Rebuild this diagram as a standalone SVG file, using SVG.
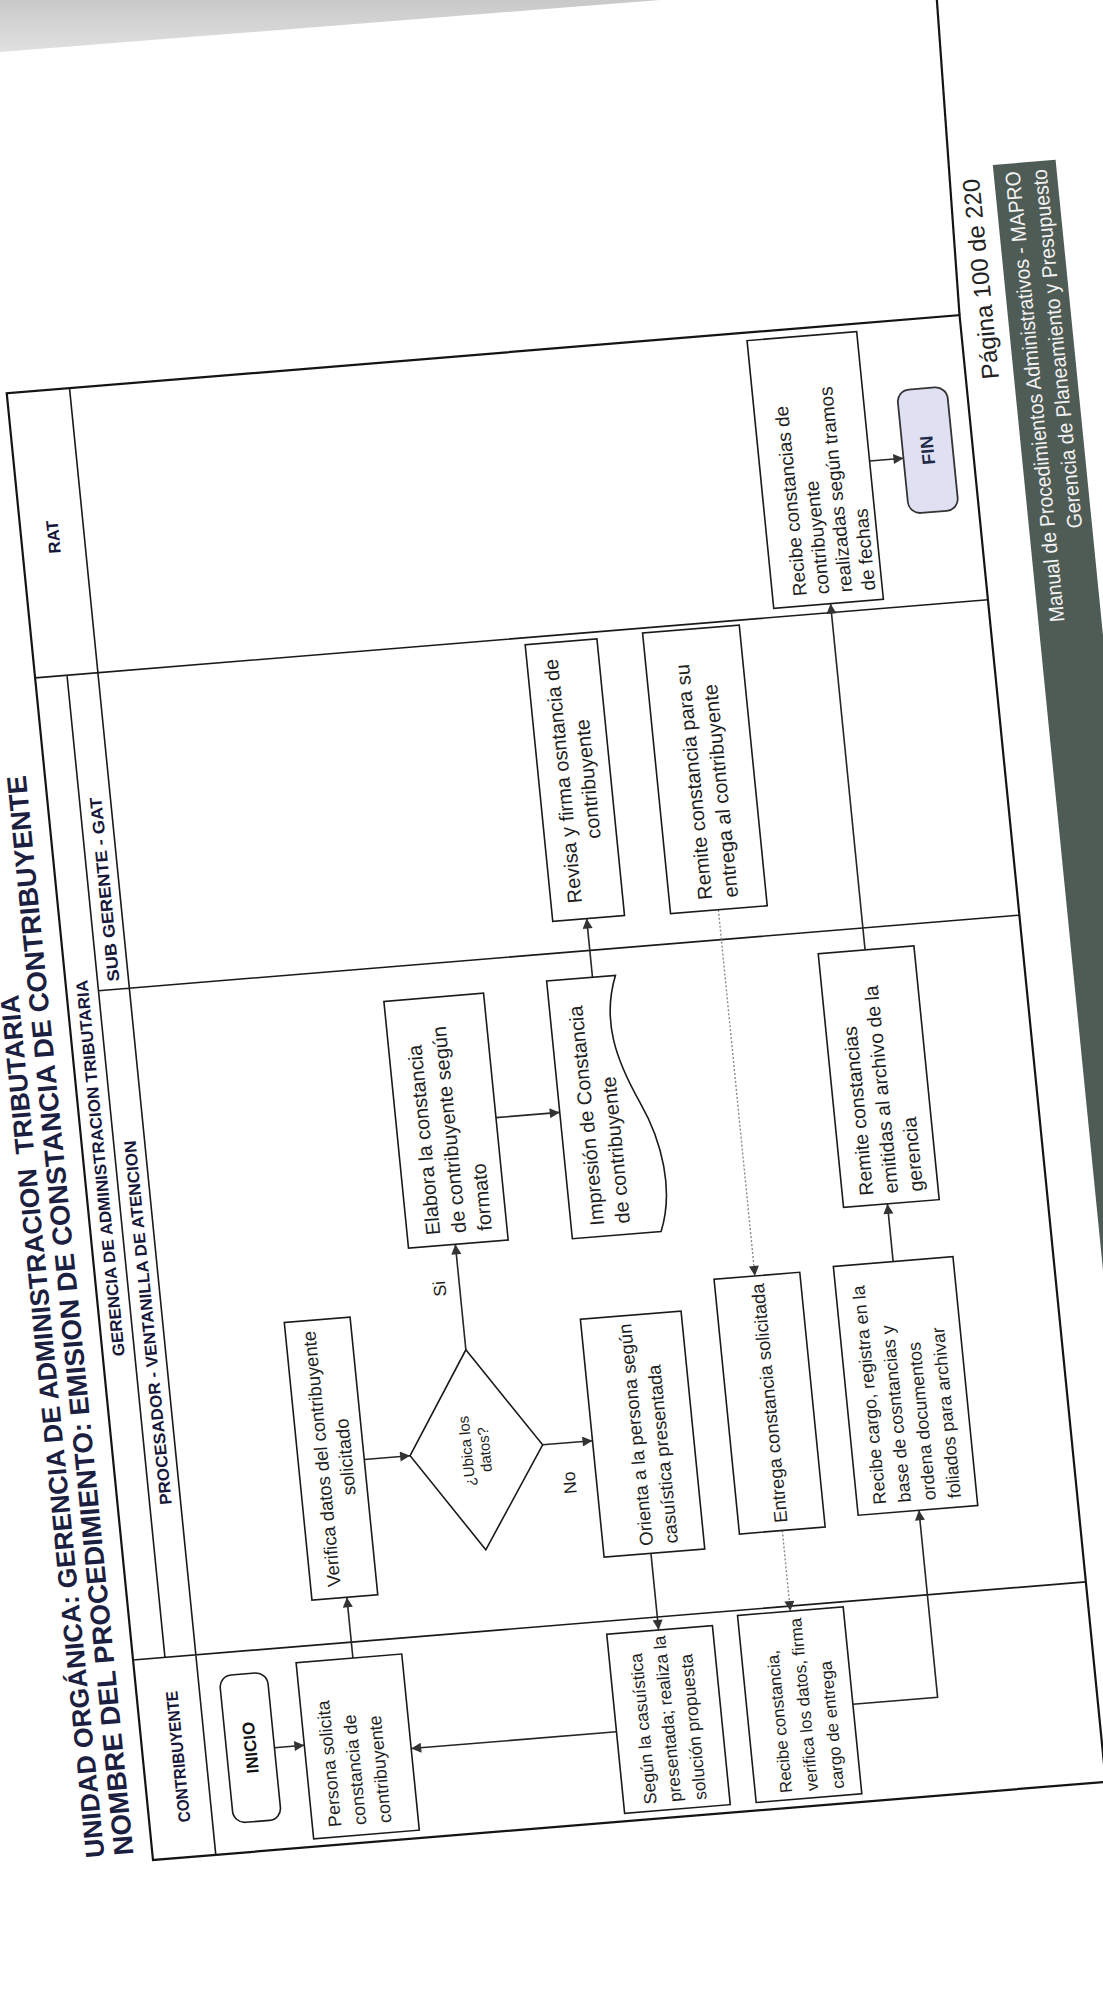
<svg xmlns="http://www.w3.org/2000/svg" width="1103" height="1997" viewBox="0 0 1103 1997">
<style>
.fr{stroke:#141414;stroke-width:2.2;fill:none}
.ln{stroke:#1a1a1a;stroke-width:1.6;fill:none}
.box{fill:#fff;stroke:#1a1a1a;stroke-width:1.6}
.t{font-family:"Liberation Sans",Arial,sans-serif;font-size:20px;fill:#1e1e1e}
.s{font-size:18px}
.tc{text-anchor:middle}
.hd{font-family:"Liberation Sans",Arial,sans-serif;font-weight:bold;font-size:16.7px;fill:#17173a}
.ttl{font-family:"Liberation Sans",Arial,sans-serif;font-weight:bold;font-size:27.5px;fill:#1c2040}
.lb{font-family:"Liberation Sans",Arial,sans-serif;font-size:17.5px;fill:#1e1e1e;text-anchor:middle}
.cn{stroke:#262626;stroke-width:1.6;fill:none;marker-end:url(#ah)}
.dt{stroke:#8a8a8a;stroke-width:1.4;stroke-dasharray:2 2;fill:none;marker-end:url(#ah)}
.ft{font-family:"Liberation Sans",Arial,sans-serif;fill:#f2f2f2;font-size:21px}
</style>
<defs>
<marker id="ah" viewBox="0 0 10 10" refX="10" refY="5" markerWidth="11" markerHeight="10" markerUnits="userSpaceOnUse" orient="auto"><path d="M0,0 L10,5 L0,10 z" fill="#333"/></marker>
<linearGradient id="gs" x1="0" y1="0" x2="0" y2="1"><stop offset="0" stop-color="#c9c9c9"/><stop offset="1" stop-color="#e0e0e0"/></linearGradient>
</defs>
<rect width="1103" height="1997" fill="#fff"/>
<polygon points="0,0 660,0 0,52" fill="url(#gs)"/>
<g id="page" transform="matrix(-0.09923,-0.99504,0.99665,-0.08174,153,1860)">
  <g id="title">
    <text class="ttl" x="7" y="-48" xml:space="preserve" style="font-size:26.5px">UNIDAD ORGÁNICA: GERENCIA DE ADMINISTRACION  TRIBUTARIA</text>
    <text class="ttl" x="7" y="-19" textLength="1085" lengthAdjust="spacingAndGlyphs">NOMBRE DEL PROCEDIMIENTO: EMISION DE CONSTANCIA DE CONTRIBUYENTE</text>
  </g>
  <g id="frame">
    <rect class="fr" x="0" y="0" width="1474" height="956" fill="#fff"/>
    <path class="ln" d="M0,63 H1474 M201,32 H1188 M201,0 V956 M871,32 V956 M1188,0 V956"/>
    <path class="fr" d="M1474,956 L1800,965"/>
  </g>
  <g id="headers">
    <text class="hd tc" x="101" y="41" textLength="132" lengthAdjust="spacingAndGlyphs">CONTRIBUYENTE</text>
    <text class="hd tc" x="694" y="22" textLength="378" lengthAdjust="spacingAndGlyphs">GERENCIA DE ADMINISTRACION TRIBUTARIA</text>
    <text class="hd tc" x="536" y="54" textLength="366" lengthAdjust="spacingAndGlyphs">PROCESADOR - VENTANILLA DE ATENCION</text>
    <text class="hd" x="879" y="54" textLength="185" lengthAdjust="spacingAndGlyphs">SUB GERENTE - GAT</text>
    <text class="hd tc" x="1327" y="38">RAT</text>
  </g>
  <g id="connectors">
    <path class="cn" d="M102,132 V162"/>
    <path class="cn" d="M185,219 H246"/>
    <path class="cn" d="M382,250 V296"/>
    <path class="cn" d="M483,362 H589"/>
    <path class="cn" d="M382,429 V479"/>
    <path class="cn" d="M265,526 H188"/>
    <path class="cn" d="M90,474 V268"/>
    <path class="cn" d="M712,415 V479"/>
    <path class="cn" d="M844,525 H903"/>
    <path class="dt" d="M901,657 H533"/>
    <path class="dt" d="M277,659 H196"/>
    <path class="cn" d="M98,712 V797 H286"/>
    <path class="cn" d="M536,796 H594"/>
    <path class="cn" d="M849,799 H1197"/>
    <path class="cn" d="M1336,852 V886"/>
    <text class="lb" x="546" y="348">Si</text>
    <text class="lb" x="342" y="458">No</text>
  </g>
  <g id="n-inicio"><rect class="box" x="30" y="84" width="148" height="48" rx="12"/><text class="hd tc" x="104" y="114" style="fill:#111;font-size:17px">INICIO</text></g>
  <g id="n-persona"><rect class="box" x="8" y="162" width="177" height="106"/>
    <text class="t s" x="18" y="191">Persona solicita</text><text class="t s" x="18" y="216">constancia de</text><text class="t s" x="18" y="241">contribuyente</text></g>
  <g id="n-verifica"><rect class="box" x="246" y="184" width="279" height="66"/>
    <text class="t tc" x="386" y="214" style="font-size:18.5px">Verifica datos del contribuyente</text><text class="t tc" x="386" y="238" style="font-size:18.5px">solicitado</text></g>
  <g id="n-ubica"><polygon class="box" points="382,296 483,362 382,429 282,362"/>
    <text class="t tc" x="382" y="358" style="font-size:15px">¿Ubica los</text><text class="t tc" x="382" y="376" style="font-size:15px">datos?</text></g>
  <g id="n-elabora"><rect class="box" x="589" y="315" width="248" height="100"/>
    <text class="t" x="600" y="348">Elabora la constancia</text><text class="t" x="600" y="374">de contribuyente según</text><text class="t" x="600" y="400">formato</text></g>
  <g id="n-impresion"><path class="box" d="M585,479 H844 V548 C800,530 760,540 715,560 C675,578 625,585 585,568 Z"/>
    <text class="t" x="596" y="512">Impresión de Constancia</text><text class="t" x="596" y="538">de contribuyente</text></g>
  <g id="n-revisa"><rect class="box" x="903" y="491" width="278" height="72"/>
    <text class="t tc" x="1042" y="522">Revisa y firma osntancia de</text><text class="t tc" x="1042" y="547">contribuyente</text></g>
  <g id="n-remite1"><rect class="box" x="901" y="609" width="282" height="97"/>
    <text class="t" x="912" y="652">Remite constancia para su</text><text class="t" x="912" y="678">entrega al contribuyente</text></g>
  <g id="n-entrega"><rect class="box" x="277" y="616" width="256" height="86"/>
    <text class="t tc" x="405" y="665" style="font-size:18.5px">Entrega constancia solicitada</text></g>
  <g id="n-orienta"><rect class="box" x="265" y="479" width="239" height="101"/>
    <text class="t" x="273" y="529" style="font-size:18.5px">Orienta a la persona según</text><text class="t" x="273" y="554" style="font-size:18.5px">casuística presentada</text></g>
  <g id="n-segun"><rect class="box" x="8" y="474" width="180" height="106"/>
    <text class="t" x="15" y="507" style="font-size:17.5px">Según la casuística</text><text class="t" x="15" y="532" style="font-size:17.5px">presentada; realiza la</text><text class="t" x="15" y="557" style="font-size:17.5px">solución propuesta</text></g>
  <g id="n-recibe1"><rect class="box" x="8" y="606" width="188" height="106"/>
    <text class="t" x="15" y="643" style="font-size:17px">Recibe constancia,</text><text class="t" x="15" y="669" style="font-size:17px">verifica los datos, firma</text><text class="t" x="15" y="695" style="font-size:17px">cargo de entrega</text></g>
  <g id="n-recibe2"><rect class="box" x="286" y="736" width="250" height="120"/>
    <text class="t s" x="295" y="765">Recibe cargo, registra en la</text><text class="t s" x="295" y="790">base de cosntancias y</text><text class="t s" x="295" y="815">ordena documentos</text><text class="t s" x="295" y="840">foliados para archivar</text></g>
  <g id="n-remite2"><rect class="box" x="594" y="752" width="255" height="96"/>
    <text class="t" x="604" y="783" style="font-size:19.5px">Remite constancias</text><text class="t" x="604" y="808" style="font-size:19.5px">emitidas al archivo de la</text><text class="t" x="604" y="833" style="font-size:19.5px">gerencia</text></g>
  <g id="n-rat"><rect class="box" x="1197" y="742" width="269" height="110"/>
    <text class="t" x="1207" y="776" style="font-size:19px">Recibe constancias de</text><text class="t" x="1207" y="799" style="font-size:19px">contribuyente</text><text class="t" x="1207" y="822" style="font-size:19px">realizadas según tramos</text><text class="t" x="1207" y="845" style="font-size:19px">de fechas</text></g>
  <g id="n-fin"><rect x="1280" y="886" width="124" height="50" rx="12" fill="#dfe1f2" stroke="#333" stroke-width="1.8"/><text class="hd tc" x="1342" y="917" style="fill:#1f2a48;font-size:18px">FIN</text></g>
  <g id="footer">
    <text x="1609" y="989" text-anchor="end" style="font-family:'Liberation Sans',Arial,sans-serif;font-size:24px;fill:#222">Página 100 de 220</text>
    <rect x="380" y="1004" width="1241" height="63" fill="#4f5b55"/>
    <text class="ft" x="1160" y="1030" textLength="453" lengthAdjust="spacingAndGlyphs">Manual de Procedimientos Administrativos - MAPRO</text>
    <text class="ft" x="1252" y="1057" textLength="361" lengthAdjust="spacingAndGlyphs">Gerencia de Planeamiento y Presupuesto</text>
  </g>
</g>
</svg>
